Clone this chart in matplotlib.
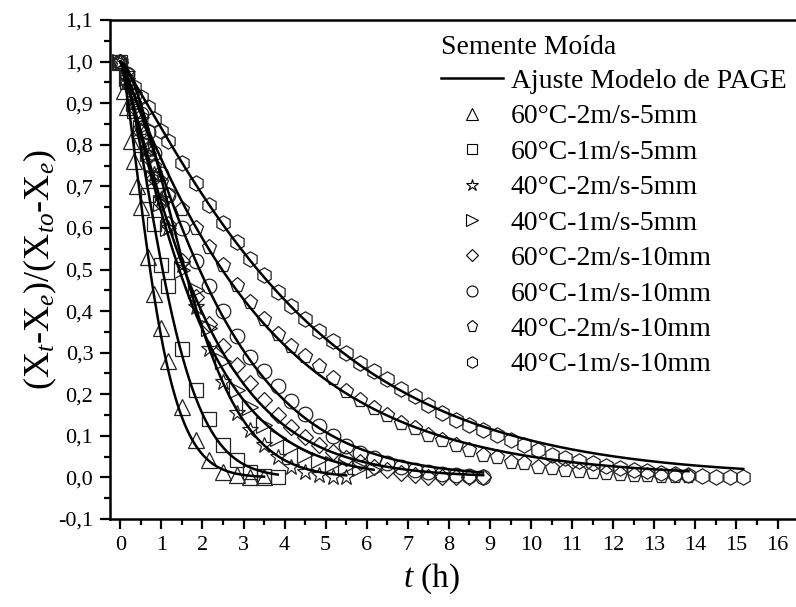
import numpy as np
import matplotlib
matplotlib.use("Agg")
import matplotlib.pyplot as plt
from matplotlib.lines import Line2D

plt.rcParams['font.family'] = ['Liberation Serif', 'DejaVu Serif']
plt.rcParams['mathtext.fontset'] = 'custom'
plt.rcParams['mathtext.rm'] = 'Liberation Serif'
plt.rcParams['mathtext.it'] = 'Liberation Serif:italic'

labels = ["60°C-2m/s-5mm", "60°C-1m/s-5mm", "40°C-2m/s-5mm", "40°C-1m/s-5mm",
          "60°C-2m/s-10mm", "60°C-1m/s-10mm", "40°C-2m/s-10mm", "40°C-1m/s-10mm"]
markers = ["^", "s", "*", ">", "D", "o", "p", "h"]

t_a = [0, 0.083, 0.167, 0.25, 0.333, 0.417, 0.5, 0.667, 0.833, 1.0, 1.167, 1.5, 1.833, 2.167, 2.5, 2.833, 3.167, 3.5]
y_a = [1.0, 0.93, 0.89, 0.81, 0.76, 0.70, 0.65, 0.53, 0.44, 0.36, 0.28, 0.17, 0.089, 0.041, 0.014, 0.005, 0.002, 0.002]

t_b = [0, 0.167, 0.333, 0.5, 0.667, 0.833, 1.0, 1.167, 1.5, 1.833, 2.167, 2.5, 2.833, 3.167, 3.5, 3.833]
y_b = [1.0, 0.95, 0.88, 0.80, 0.68, 0.61, 0.51, 0.46, 0.31, 0.21, 0.14, 0.077, 0.041, 0.014, 0.004, 0.002]

t_c = [0, 0.167, 0.333, 0.5, 0.667, 0.833, 1.0, 1.167, 1.5, 1.833, 2.167, 2.5, 2.833, 3.167, 3.5, 3.833, 4.167, 4.5, 4.833, 5.167, 5.5]
y_c = [1.0, 0.97, 0.92, 0.86, 0.79, 0.73, 0.67, 0.60, 0.51, 0.41, 0.31, 0.23, 0.154, 0.113, 0.077, 0.048, 0.026, 0.014, 0.005, 0.002, 0.002]

t_d = [0, 0.167, 0.333, 0.5, 0.667, 0.833, 1.0, 1.167, 1.5, 1.833, 2.167, 2.5, 2.833, 3.167, 3.5, 3.833, 4.167, 4.5, 4.833, 5.167, 5.5, 5.833, 6.167]
y_d = [1.0, 0.96, 0.90, 0.84, 0.78, 0.72, 0.66, 0.60, 0.50, 0.45, 0.36, 0.28, 0.21, 0.17, 0.125, 0.095, 0.072, 0.055, 0.042, 0.032, 0.026, 0.022, 0.017]

t_e = [0, 0.167, 0.333, 0.5, 0.667, 0.833, 1.0, 1.167, 1.5, 1.833, 2.167, 2.5, 2.833, 3.167, 3.5, 3.833, 4.167, 4.5, 4.833, 5.167, 5.5, 5.833, 6.167, 6.5, 6.833, 7.167, 7.5, 7.833, 8.167, 8.5, 8.833]
y_e = [1.0, 0.95, 0.89, 0.83, 0.77, 0.72, 0.66, 0.61, 0.52, 0.435, 0.37, 0.315, 0.27, 0.226, 0.185, 0.149, 0.122, 0.097, 0.077, 0.060, 0.046, 0.036, 0.026, 0.017, 0.010, 0.005, 0.002, 0.0, 0.0, 0.0, 0.0]

t_f = [0, 0.167, 0.333, 0.5, 0.667, 0.833, 1.0, 1.167, 1.5, 1.833, 2.167, 2.5, 2.833, 3.167, 3.5, 3.833, 4.167, 4.5, 4.833, 5.167, 5.5, 5.833, 6.167, 6.5, 6.833, 7.167, 7.5, 7.833, 8.167, 8.5, 8.833]
y_f = [1.0, 0.97, 0.92, 0.875, 0.83, 0.78, 0.73, 0.68, 0.60, 0.52, 0.46, 0.40, 0.34, 0.29, 0.257, 0.221, 0.183, 0.152, 0.123, 0.100, 0.075, 0.058, 0.046, 0.034, 0.025, 0.018, 0.012, 0.008, 0.005, 0.003, 0.002]

t_g = [0, 0.167, 0.333, 0.5, 0.667, 0.833, 1.0, 1.167, 1.5, 1.833, 2.167, 2.5, 2.833, 3.167, 3.5, 3.833, 4.167, 4.5, 4.833, 5.167, 5.5, 5.833, 6.167, 6.5, 6.833, 7.167, 7.5, 7.833, 8.167, 8.5, 8.833, 9.167, 9.5, 9.833, 10.167, 10.5, 10.833, 11.167, 11.5, 11.833, 12.167, 12.5, 12.833, 13.167, 13.5, 13.833]
y_g = [1.0, 0.95, 0.90, 0.84, 0.79, 0.75, 0.71, 0.68, 0.645, 0.60, 0.555, 0.51, 0.462, 0.421, 0.382, 0.346, 0.317, 0.293, 0.267, 0.238, 0.209, 0.185, 0.168, 0.149, 0.132, 0.118, 0.103, 0.089, 0.077, 0.065, 0.055, 0.048, 0.038, 0.034, 0.026, 0.022, 0.018, 0.015, 0.012, 0.010, 0.008, 0.006, 0.005, 0.004, 0.003, 0.003]

t_h = [0, 0.167, 0.333, 0.5, 0.667, 0.833, 1.0, 1.167, 1.5, 1.833, 2.167, 2.5, 2.833, 3.167, 3.5, 3.833, 4.167, 4.5, 4.833, 5.167, 5.5, 5.833, 6.167, 6.5, 6.833, 7.167, 7.5, 7.833, 8.167, 8.5, 8.833, 9.167, 9.5, 9.833, 10.167, 10.5, 10.833, 11.167, 11.5, 11.833, 12.167, 12.5, 12.833, 13.167, 13.5, 13.833, 14.167, 14.5, 14.833, 15.167]
y_h = [1.0, 0.97, 0.94, 0.915, 0.89, 0.863, 0.832, 0.808, 0.755, 0.707, 0.654, 0.611, 0.567, 0.526, 0.486, 0.447, 0.413, 0.381, 0.353, 0.327, 0.300, 0.276, 0.255, 0.236, 0.212, 0.195, 0.175, 0.156, 0.139, 0.127, 0.115, 0.101, 0.089, 0.077, 0.065, 0.055, 0.047, 0.040, 0.034, 0.028, 0.023, 0.019, 0.015, 0.011, 0.008, 0.005, 0.003, 0.002, 0.001, 0.0]

# PAGE model fit parameters  MR = exp(-k t^n)
page_k = [1.09, 0.664, 0.332, 0.45, 0.414, 0.311, 0.268, 0.175]
page_n = [1.41, 1.50, 1.63, 1.20, 1.166, 1.22, 1.048, 1.141]

legend_title = "Semente Moída"
fit_label = "Ajuste Modelo de PAGE"

times = [t_a, t_b, t_c, t_d, t_e, t_f, t_g, t_h]
values = [y_a, y_b, y_c, y_d, y_e, y_f, y_g, y_h]

W, H = 796, 607
fig = plt.figure(figsize=(W / 100, H / 100), dpi=100)
ax = fig.add_axes([110 / W, (H - 519) / H, (W - 110) / W, (519 - 20) / H])

msz = {"^": 11, "s": 9.5, "*": 12, ">": 11, "D": 8.5, "o": 10.5, "p": 11, "h": 11}
for t, y, m, k, n in zip(times, values, markers, page_k, page_n):
    ax.plot(t, y, linestyle='none', marker=m, markersize=msz[m], markerfacecolor='none',
            markeredgecolor='#222222', markeredgewidth=0.9, zorder=2)
    tt = np.linspace(0, t[-1], 300)
    ax.plot(tt, np.exp(-k * tt ** n), color='black', lw=1.8, zorder=3)

ax.set_xlim(-0.25, 16.45)
ax.set_ylim(-0.1, 1.1)
ax.set_xticks(np.arange(0, 17, 1))
ax.set_xticks(np.arange(0.5, 16.5, 1), minor=True)
ax.set_yticks(np.round(np.arange(-0.1, 1.11, 0.1), 2))
ax.set_yticks(np.arange(-0.05, 1.1, 0.1), minor=True)
ax.set_yticklabels([f"{v:.1f}".replace('.', ',') for v in np.arange(-0.1, 1.11, 0.1)])
ax.tick_params(which='major', direction='out', length=7, width=1.6, labelsize=16, pad=5)
ax.tick_params(which='minor', direction='out', length=4, width=1.6)
ax.tick_params(axis='x', top=False)
ax.tick_params(axis='y', right=False)
for s in ['left', 'bottom', 'top']:
    ax.spines[s].set_linewidth(1.8)
ax.spines['right'].set_visible(False)

ax.set_xlabel(r'$\mathit{t}$ (h)', fontsize=24)
ax.xaxis.set_label_coords((432 - 110) / (W - 110), -0.085)
ax.set_ylabel(r'(X$_{\mathit{t}}$-X$_{\mathit{e}}$)/(X$_{\mathit{to}}$-X$_{\mathit{e}}$)', fontsize=26)
ax.yaxis.set_label_coords(-0.075, 0.5)

handles = [Line2D([], [], color='black', lw=1.8)]
hlabels = [fit_label]
for m, lab in zip(markers, labels):
    handles.append(Line2D([], [], linestyle='none', marker=m, markersize=msz[m] * 0.75,
                          markerfacecolor='none', markeredgecolor='black', markeredgewidth=0.8))
    hlabels.append(lab)
leg = ax.legend(handles, hlabels, loc='upper left',
                bbox_to_anchor=((422 - 110) / (W - 110), 1 - 29 / 499), frameon=False,
                fontsize=20, labelspacing=0.36, handlelength=2.2,
                handletextpad=0.3, borderaxespad=0.3)
fig.text(441 / W, 1 - 47.5 / H, legend_title, fontsize=20, ha='left', va='center')

fig.savefig("out.png", dpi=100)
